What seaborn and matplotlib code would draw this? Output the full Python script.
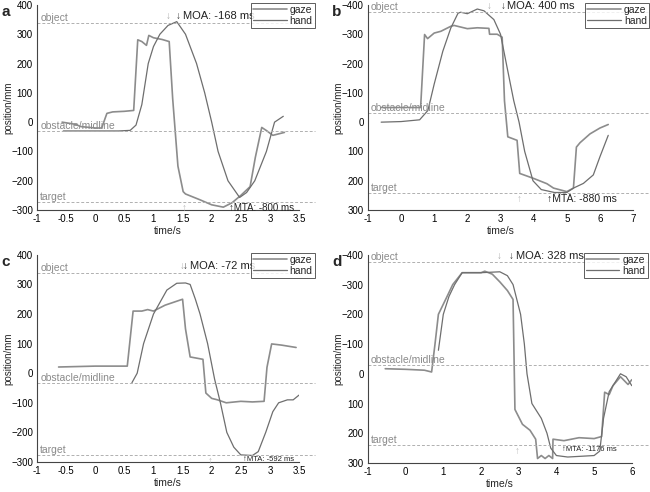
import matplotlib
matplotlib.use('Agg')
import numpy as np
import pandas as pd
import matplotlib.pyplot as plt
import seaborn as sns

# panel a
a_gaze_t = [-0.57, -0.35, -0.25, 0.0, 0.11, 0.2, 0.3, 0.5, 0.66, 0.73, 0.8, 0.88, 0.92, 1.0, 1.15, 1.27, 1.33, 1.42, 1.51, 1.55, 1.8, 2.0, 2.2, 2.35, 2.5, 2.66, 2.75, 2.86, 2.95, 3.05, 3.25]
a_gaze_y = [0, -7, -15, -20, -20, 30, 35, 37, 40, 281, 275, 262, 296, 288, 282, 275, 80, -150, -237, -245, -265, -282, -290, -275, -250, -220, -120, -18, -30, -45, -35]
a_hand_t = [-0.55, 0.0, 0.4, 0.6, 0.7, 0.8, 0.91, 1.0, 1.11, 1.25, 1.4, 1.55, 1.74, 1.88, 2.0, 2.11, 2.28, 2.48, 2.6, 2.74, 2.94, 3.08, 3.23]
a_hand_y = [-30, -30, -30, -28, -10, 60, 200, 258, 300, 330, 343, 300, 200, 100, 0, -100, -200, -257, -240, -200, -100, 0, 20]
a_lines = {"object": 340, "obstacle/midline": -30, "target": -272}

# panel b (inverted axis)
b_gaze_t = [-0.6, 0.59, 0.71, 0.8, 1.0, 1.2, 1.5, 1.6, 2.0, 2.3, 2.65, 2.67, 2.9, 3.05, 3.12, 3.22, 3.5, 3.58, 4.0, 4.4, 4.6, 5.0, 5.2, 5.29, 5.4, 5.7, 6.0, 6.25]
b_gaze_y = [-50, -50, -299, -285, -304, -310, -327, -330, -319, -322, -320, -300, -300, -290, -73, 50, 62, 175, 192, 210, 225, 237, 225, 85, 70, 40, 20, 8]
b_hand_t = [-0.6, 0.0, 0.56, 0.81, 1.0, 1.26, 1.5, 1.72, 1.8, 2.0, 2.3, 2.5, 2.8, 3.0, 3.2, 3.4, 3.56, 3.73, 3.98, 4.23, 4.63, 5.0, 5.2, 5.5, 5.8, 6.0, 6.25]
b_hand_y = [0, -2, -8, -40, -130, -242, -321, -372, -375, -370, -386, -380, -350, -300, -186, -73, 0, 100, 200, 230, 240, 240, 225, 209, 180, 118, 45]
b_lines = {"object": -375, "obstacle/midline": -30, "target": 243}

# panel c
c_gaze_t = [-0.63, 0.0, 0.55, 0.65, 0.8, 0.9, 1.0, 1.2, 1.35, 1.5, 1.55, 1.63, 1.85, 1.9, 2.0, 2.1, 2.25, 2.5, 2.7, 2.9, 2.95, 3.03, 3.2, 3.45]
c_gaze_y = [21, 24, 24, 210, 210, 215, 210, 230, 240, 250, 150, 55, 47, -67, -85, -90, -100, -95, -97, -95, 20, 99, 95, 87]
c_hand_t = [0.63, 0.72, 0.83, 1.0, 1.23, 1.4, 1.55, 1.63, 1.72, 1.8, 1.93, 2.05, 2.15, 2.26, 2.38, 2.5, 2.7, 2.8, 2.93, 3.05, 3.15, 3.3, 3.4, 3.5]
c_hand_y = [-32, 0, 100, 200, 281, 304, 305, 300, 250, 200, 100, -20, -100, -200, -250, -276, -278, -265, -199, -130, -100, -90, -90, -74]
c_lines = {"object": 340, "obstacle/midline": -32, "target": -276}

# panel d (inverted axis)
d_gaze_t = [-0.54, 0.0, 0.5, 0.69, 0.78, 0.87, 1.1, 1.25, 1.5, 2.0, 2.1, 2.3, 2.5, 2.7, 2.85, 2.9, 3.1, 3.3, 3.45, 3.5, 3.6, 3.7, 3.8, 3.9, 3.91, 4.2, 4.6, 5.0, 5.2, 5.28, 5.4, 5.5, 5.7, 5.9, 6.0]
d_gaze_y = [-17, -15, -12, -6, -100, -200, -260, -300, -340, -340, -345, -335, -309, -280, -250, 120, 170, 190, 220, 285, 275, 285, 275, 285, 220, 225, 215, 218, 211, 62, 70, 40, 10, 36, 20]
d_hand_t = [0.87, 1.0, 1.15, 1.3, 1.5, 2.0, 2.5, 2.7, 2.85, 3.05, 3.15, 3.22, 3.35, 3.6, 3.75, 3.85, 4.0, 4.3, 5.0, 5.15, 5.25, 5.4, 5.6, 5.7, 5.85, 6.0]
d_hand_y = [-79, -200, -260, -300, -340, -340, -343, -330, -300, -200, -100, 0, 100, 150, 200, 250, 275, 280, 275, 260, 150, 60, 20, 0, 10, 40]
d_lines = {"object": -375, "obstacle/midline": -31, "target": 238}

sns.set_style("white")
plt.rcParams['font.family'] = ['Liberation Sans', 'DejaVu Sans']

gaze_col = '#8c8c8c'
hand_col = '#6e6e6e'
line_col = '#b0b0b0'
txt_col = '#8a8a8a'

fig = plt.figure(figsize=(6.5, 4.92), dpi=100)

panels = [
    ("a", [0.057, 0.573, 0.403, 0.417], a_gaze_t, a_gaze_y, a_hand_t, a_hand_y, a_lines,
     (-1, 3.5), np.arange(-1, 3.6, 0.5), (-300, 400), False,
     [(1.26, True), (1.43, False)], "MOA: -168 ms", [(1.53, True), (2.3, False)], "MTA: -800 ms", 7),
    ("b", [0.566, 0.573, 0.408, 0.417], b_gaze_t, b_gaze_y, b_hand_t, b_hand_y, b_lines,
     (-1, 7), np.arange(-1, 8, 1), (-400, 300), True,
     [(2.65, True), (3.07, False)], "MOA: 400 ms", [(3.56, True), (4.41, False)], "MTA: -880 ms", 7.5),
    ("c", [0.057, 0.061, 0.403, 0.421], c_gaze_t, c_gaze_y, c_hand_t, c_hand_y, c_lines,
     (-1, 3.5), np.arange(-1, 3.6, 0.5), (-300, 400), False,
     [(1.49, True), (1.55, False)], "MOA: -72 ms", [(1.97, True), (2.54, False)], "MTA: -592 ms", 5.5),
    ("d", [0.566, 0.059, 0.406, 0.423], d_gaze_t, d_gaze_y, d_hand_t, d_hand_y, d_lines,
     (-1, 6), np.arange(-1, 7, 1), (-400, 300), True,
     [(2.47, True), (2.81, False)], "MOA: 328 ms", [(2.97, True), (4.15, False)], "MTA: -1176 ms", 5.5),
]

for (letter, rect, gt, gy, ht, hy, hlines, xlim, xticks, ylim, inv,
     moa_arrows, moa_txt, mta_arrows, mta_txt, mta_fs) in panels:
    ax = fig.add_axes(rect)
    gaze = pd.DataFrame({"t": gt, "pos": gy})
    hand = pd.DataFrame({"t": ht, "pos": hy})
    sns.lineplot(data=gaze, x="t", y="pos", ax=ax, color=gaze_col, lw=1.2, label="gaze", sort=False)
    sns.lineplot(data=hand, x="t", y="pos", ax=ax, color=hand_col, lw=0.9, label="hand", sort=False)

    for name, val in hlines.items():
        ax.axhline(val, xmin=0, xmax=1.06, color=line_col, lw=0.7, ls=(0, (3, 2)), clip_on=False)
        ax.text(xlim[0] + 0.012 * (xlim[1] - xlim[0]), val, name, color=txt_col, fontsize=7.5,
                va='bottom', ha='left')

    ax.set_xlim(*xlim)
    ax.set_xticks(xticks)
    ax.set_xticklabels([f"{v:g}" for v in xticks])
    if inv:
        ax.set_ylim(ylim[1], ylim[0])
    else:
        ax.set_ylim(*ylim)
    ax.set_yticks(np.arange(ylim[0], ylim[1] + 1, 100))
    ax.tick_params(direction='in', length=3, labelsize=7, colors='black', width=0.6, pad=3)
    for s in ['top', 'right']:
        ax.spines[s].set_visible(False)
    for s in ['left', 'bottom']:
        ax.spines[s].set_color('#444444')
        ax.spines[s].set_linewidth(0.8)
    ax.set_xlabel("time/s", fontsize=7.5, labelpad=1)
    ax.set_ylabel("position/mm", fontsize=7)
    ax.yaxis.set_label_coords(-0.092, 0.5)

    # MOA arrows near object line, MTA arrows near target line
    obj = hlines["object"]
    tgt = hlines["target"]
    span = ylim[1] - ylim[0]
    up = 1 if not inv else -1
    for x, light in moa_arrows:
        ax.text(x, obj + up * 0.008 * span, "\u2193", ha='center', va='bottom', fontsize=7,
                color='#aaaaaa' if light else '#333333')
    ax.text(moa_arrows[1][0] + 0.016 * (xlim[1] - xlim[0]), obj + up * 0.008 * span, moa_txt,
            ha='left', va='bottom', fontsize=8, color='#222222')
    for x, light in mta_arrows:
        if light:
            ax.text(x, tgt - up * 0.005 * span, "\u2191", ha='center', va='top', fontsize=7, color='#bbbbbb')
        else:
            ax.text(x, tgt - up * 0.005 * span, "\u2191" + mta_txt, ha='left', va='top',
                    fontsize=mta_fs, color='#222222')

    leg = ax.legend(loc='upper right', bbox_to_anchor=(1.06, 1.01), fontsize=7.5, frameon=True,
                    fancybox=False, edgecolor='#333333', handlelength=3.2, borderpad=0.2,
                    labelspacing=0.1, handletextpad=0.3, borderaxespad=0)
    leg.get_frame().set_linewidth(0.7)
    ax.text(-0.135, 1.0, letter, transform=ax.transAxes, fontsize=11, fontweight='bold', va='top')

fig.savefig("out.png", dpi=100)
